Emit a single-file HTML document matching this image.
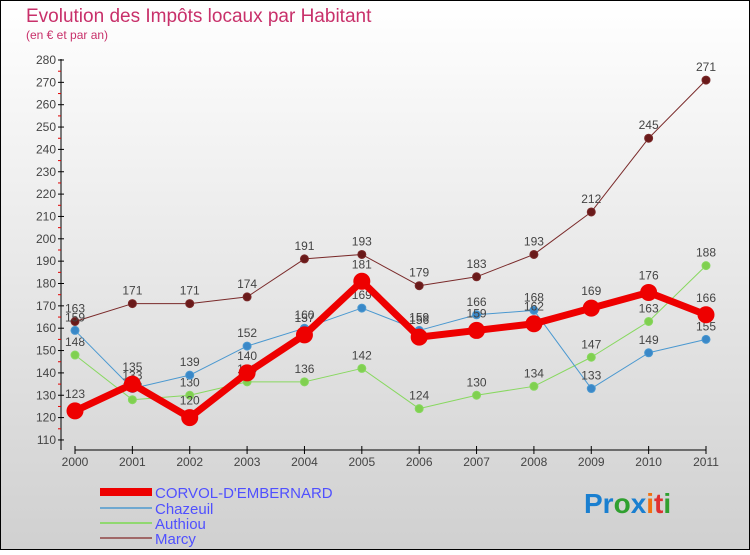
<!DOCTYPE html>
<html><head><meta charset="utf-8"><style>
body{margin:0;}
#c{width:750px;height:550px;position:relative;font-family:"Liberation Sans",sans-serif;}
text{font-family:"Liberation Sans",sans-serif;}
</style></head><body>
<div id="c">
<svg id="s" width="750" height="550" xmlns="http://www.w3.org/2000/svg">
<defs><linearGradient id="bg" x1="0" y1="0" x2="0" y2="1"><stop offset="0" stop-color="#ffffff"/><stop offset="1" stop-color="#d0d0d0"/></linearGradient></defs>
<rect x="0.5" y="0.5" width="749" height="549" fill="url(#bg)" stroke="#000"/>
<text x="26" y="22" font-size="19" fill="#c8306a">Evolution des Impôts locaux par Habitant</text>
<text x="26" y="39" font-size="12" fill="#c8306a">(en € et par an)</text>
<g id="axes"></g><g id="series"></g>
<g>
<rect x="100" y="488" width="52" height="8" fill="#ee0000"/>
<text x="155" y="498" font-size="15" fill="#5050ff">CORVOL-D'EMBERNARD</text>
<rect x="100" y="507" width="52" height="2" fill="#6fa8d0"/>
<text x="155" y="514" font-size="15" fill="#5050ff">Chazeuil</text>
<rect x="100" y="522" width="52" height="2" fill="#90d870"/>
<text x="155" y="529" font-size="15" fill="#5050ff">Authiou</text>
<rect x="100" y="537" width="52" height="2" fill="#a06868"/>
<text x="155" y="544" font-size="15" fill="#5050ff">Marcy</text>
</g>
<text x="584" y="513" font-size="28" font-weight="bold"><tspan fill="#1a7fd0">Pr</tspan><tspan fill="#30a030">o</tspan><tspan fill="#1a7fd0">x</tspan><tspan fill="#f07010">i</tspan><tspan fill="#e03030">t</tspan><tspan fill="#30a030">i</tspan></text>
</svg></div>
<script>
const years=["2000","2001","2002","2003","2004","2005","2006","2007","2008","2009","2010","2011"];
const yTicks=[110,120,130,140,150,160,170,180,190,200,210,220,230,240,250,260,270,280];
const corvol=[123,135,120,140,157,181,156,159,162,169,176,166];
const chazeuil=[159,133,139,152,160,169,159,166,168,133,149,155];
const authiou=[148,128,130,136,136,142,124,130,134,147,163,188];
const marcy=[163,171,171,174,191,193,179,183,193,212,245,271];
const NS="http://www.w3.org/2000/svg";
function X(i){return 75+i*(706-75)/(years.length-1);}
function Y(v){return 60+(280-v)*2.235;}
function mk(t,a,p){const e=document.createElementNS(NS,t);for(const k in a)e.setAttribute(k,a[k]);p.appendChild(e);return e;}
const ax=document.getElementById('axes');
let l=mk('line',{x1:61,y1:59,x2:61,y2:450,stroke:'#000','stroke-width':1},ax);


l=mk('line',{x1:75,y1:450,x2:706,y2:450,stroke:'#000','stroke-width':1},ax);


yTicks.forEach(v=>{
 const y=Y(v);
 mk('line',{x1:58,y1:y,x2:64,y2:y,stroke:'#000'},ax);
 if(v>110) mk('line',{x1:58,y1:y+11.2,x2:61,y2:y+11.2,stroke:'#e00000'},ax);
 const t=mk('text',{x:56,y:y+4,'font-size':12,fill:'#444','text-anchor':'end'},ax);
 t.textContent=v;
 
 
});
years.forEach((yr,i)=>{
 const x=X(i);
 mk('line',{x1:x,y1:446,x2:x,y2:454,stroke:'#000'},ax);
 const t=mk('text',{x:x,y:466,'font-size':12,fill:'#444','text-anchor':'middle'},ax);
 t.textContent=yr;
 
 
});
const sg=document.getElementById('series');
function series(name,data,color,dot,w,r){
 const g=mk('g',{},sg);
 
 
 mk('polyline',{points:data.map((v,i)=>X(i)+','+Y(v)).join(' '),fill:'none',stroke:color,'stroke-width':w,'stroke-linejoin':'round'},g);
 data.forEach((v,i)=>{
  const c=mk('circle',{cx:X(i),cy:Y(v),r:r,fill:dot,stroke:color,'stroke-width':1},g);
  
  
  const t=mk('text',{x:X(i),y:Y(v)-r-5,'font-size':12,fill:'#444','text-anchor':'middle'},g);
  t.textContent=v;
  
  
 });
}
series('marcy',marcy,'#7a2a2a','#6a1a1a',1,4);
series('authiou',authiou,'#88d860','#80d050',1,4);
series('chazeuil',chazeuil,'#4a98d0','#3a88c8',1,4);
series('corvol',corvol,'#ee0000','#ee0000',7,8);
</script>
</body></html>
